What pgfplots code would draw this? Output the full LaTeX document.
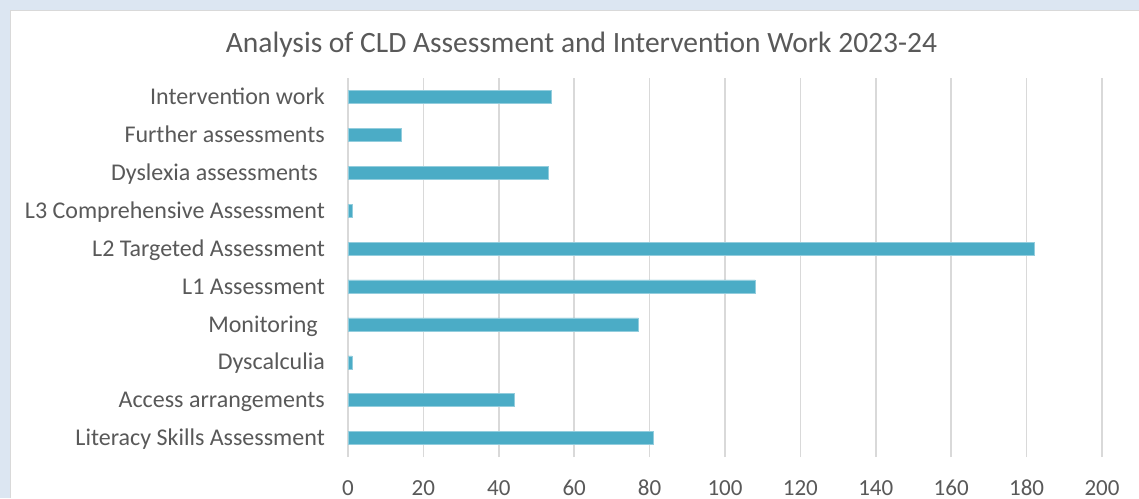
\documentclass[border=0pt]{standalone}
\usepackage{pgfplots}
\pgfplotsset{compat=1.18}
\usepackage{fontspec}
\setmainfont{Carlito}
\definecolor{barc}{HTML}{4BACC6}
\definecolor{txt}{HTML}{595959}
\definecolor{gridc}{HTML}{D9D9D9}
\definecolor{framec}{HTML}{DCE6F2}
\begin{document}
\begin{tikzpicture}[x=1pt,y=1pt]
\useasboundingbox (0,0) rectangle (1139,498);
\fill[framec] (0,0) rectangle (1139,498);
\fill[white] (10,0) rectangle (1139,487);
\draw[gridc, line width=1pt] (10,0) -- (10,487) -- (1139,487);
\begin{axis}[
  at={(348pt,41pt)}, anchor=south west,
  scale only axis, width=754pt, height=379pt,
  xmin=0, xmax=200, xtick={0,20,...,200},
  ymin=0.5, ymax=10.5, ytick={1,...,10},
  yticklabels={Literacy Skills Assessment, Access arrangements, Dyscalculia, Monitoring\kern7pt, L1 Assessment, L2 Targeted Assessment, L3 Comprehensive Assessment, Dyslexia assessments\kern7pt, Further assessments, Intervention work},
  xbar, bar width=13pt,
  axis line style={draw=none},
  xmajorgrids, grid style={gridc, line width=1.5pt},
  major tick length=0pt,
  /pgf/number format/assume math mode=true,
  tick label style={text=txt},
  xticklabel style={anchor=base, inner sep=0pt, yshift=-38pt, font=\fontsize{23}{26}\selectfont},
  yticklabel style={anchor=base east, inner sep=0pt, xshift=-23pt, yshift=-7.7pt, font=\fontsize{24}{27}\selectfont},
  title={Analysis of CLD Assessment and Intervention Work 2023-24},
  title style={at={(axis description cs:0.3097,1)}, anchor=base, inner sep=0pt, yshift=19.7pt, text=txt, font=\fontsize{29.5}{32}\selectfont},
]
\addplot[fill=barc, draw=barc!60!white, line width=0.5pt] coordinates {
  (81,1) (44,2) (1,3) (77,4) (108,5) (182,6) (1,7) (53,8) (14,9) (54,10)
};
\end{axis}
\end{tikzpicture}
\end{document}
